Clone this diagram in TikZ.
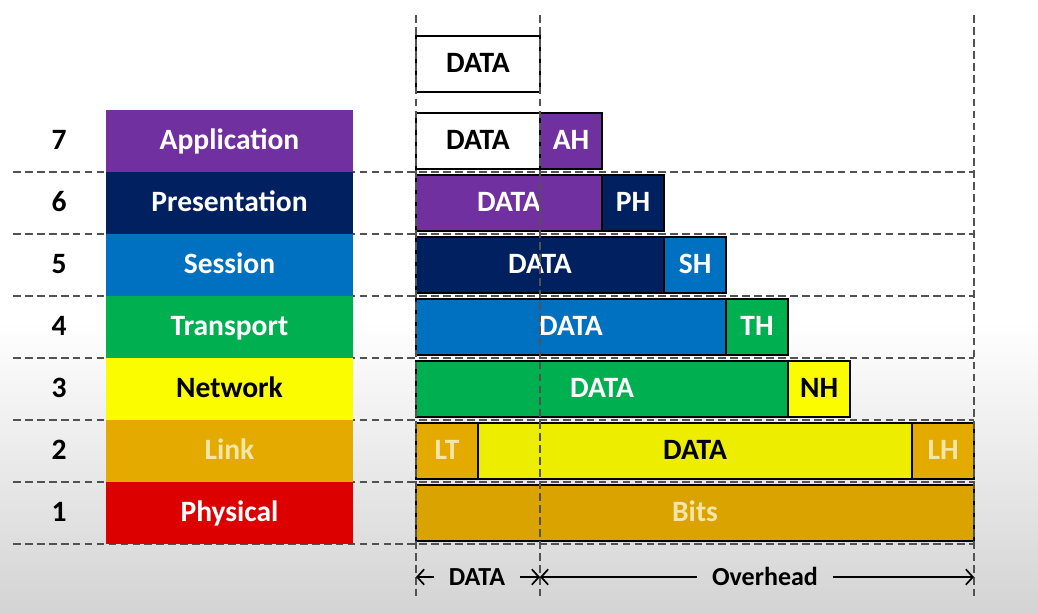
\documentclass[tikz,border=0pt]{standalone}
\usepackage{fontspec}
\setmainfont{Carlito}
\usetikzlibrary{positioning,arrows.meta}

\begin{document}
\begin{tikzpicture}[x=0.025cm,y=-0.025cm,
  every node/.style={font=\fontsize{21}{25}\selectfont\bfseries,text height=13.5pt,text depth=1pt},
  layer/.style={minimum width=6.175cm,minimum height=1.55cm,inner sep=0pt,outer sep=0pt},
  pdu/.style={draw=black,line width=1.3pt,minimum height=1.4cm,inner sep=0pt,outer sep=0pt,anchor=west},
  grid/.style={draw=black!68,line width=1pt,dash pattern=on 5.5pt off 3pt},
  span/.style={inner xsep=0.36cm,font=\fontsize{18.5}{22}\selectfont\bfseries},
  spanarrow/.style={line width=1.2pt,-{Straight Barb[length=5pt,width=11pt]}}]
% Layer colours
\definecolor{appc}{HTML}{7030A0}
\definecolor{prec}{HTML}{002060}
\definecolor{sesc}{HTML}{0070C0}
\definecolor{trac}{HTML}{00B050}
\definecolor{netc}{HTML}{FCFC00}
\definecolor{linkc}{HTML}{E4AA00}
\definecolor{phyc}{HTML}{DD0000}
\definecolor{bitc}{HTML}{F4E6A6}
% Page with the grey fade towards the bottom
\useasboundingbox (0,0) rectangle (1038,612);
\fill[white] (0,0) rectangle (1038,612);
\shade[top color=white,bottom color=black!17] (0,320) rectangle (1038,612);
% Row separators (behind the boxes)
\foreach \k in {0,...,6}
  \draw[grid] (13,{172+62*\k}) -- (974,{172+62*\k});
% The layer stack with its numbers
\foreach \n/\lname/\lfill/\ltext in {7/Application/appc/white,6/Presentation/prec/white,
    5/Session/sesc/white,4/Transport/trac/white,3/Network/netc/black,
    2/Link/linkc/bitc,1/Physical/phyc/white}
{
  \node[layer,fill=\lfill,text=\ltext] (layer\n) at (229.5,{141+(7-\n)*62}) {\lname};
  \node (num\n) at (59,{141+(7-\n)*62}) {\n};
}
% Message on top
\node[pdu,fill=white,minimum width=3.1cm] (msg) at (416,64) {DATA};
% Each layer wraps the one above and adds its header
\foreach \n/\dfill/\dtext/\hname/\hfill/\htext in {7/white/black/AH/appc/white,
    6/appc/white/PH/prec/white,5/prec/white/SH/sesc/white,
    4/sesc/white/TH/trac/white,3/trac/white/NH/netc/black}
{
  \pgfmathsetmacro\dwidth{(9-\n)*1.55}
  \node[pdu,fill=\dfill,text=\dtext,minimum width=\dwidth cm] (data\n) at (416,{141+(7-\n)*62}) {DATA};
  \node[pdu,fill=\hfill,text=\htext,minimum width=1.55cm,right=0pt of data\n] (hdr\n) {\hname};
}
% Link frame: trailer, data, header
\node[pdu,fill=linkc,text=bitc,minimum width=1.55cm] (trl2) at (416,451) {LT};
\node[pdu,fill=netc!94!black,text=black,minimum width=10.85cm,right=0pt of trl2] (data2) {DATA};
\node[pdu,fill=linkc,text=bitc,minimum width=1.55cm,right=0pt of data2] (hdr2) {LH};
% Physical
\node[pdu,fill=linkc!96!black,text=bitc,minimum width=13.95cm] (bits1) at (416,513) {Bits};
% Column guides (on top)
\foreach \x in {416,540,974}
  \draw[grid] (\x,15) -- (\x,600);
% Data / overhead spans
\coordinate (datal) at (416,577);
\coordinate (datar) at (540,577);
\coordinate (overr) at (974,577);
\node[span] (datatxt) at (477,577) {DATA};
\node[span] (overtxt) at (765,577) {Overhead};
\draw[spanarrow] (datatxt) -- (datal);
\draw[spanarrow] (datatxt) -- (datar);
\draw[spanarrow] (overtxt) -- (datar);
\draw[spanarrow] (overtxt) -- (overr);
\end{tikzpicture}
\end{document}
